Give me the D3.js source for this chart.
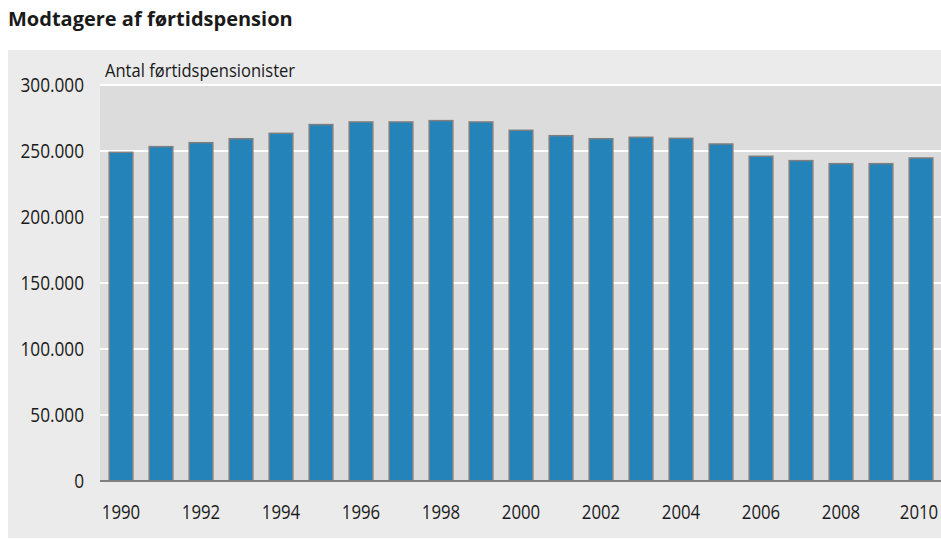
<!DOCTYPE html>
<html>
<head>
<meta charset="utf-8">
<script src="https://cdn.jsdelivr.net/npm/d3@7"></script>
<style>
  body { margin: 0; background: #fff; }
  text { font-family: "Open Sans", sans-serif; fill: #1a1a1a; }
</style>
</head>
<body>
<div id="chart"></div>
<script>
// data (antal personer)
const years = d3.range(1990, 2011);
const recipients = [
  249000, 253300, 256300, 259300, 263400, 270000, 272000, 272000, 273000, 272000,
  265700, 261600, 259300, 260400, 259600, 255300, 246000, 242700, 240400, 240400,
  244700
];
const yTicks = [0, 50000, 100000, 150000, 200000, 250000, 300000];
const xTickYears = years.filter(y => y % 2 === 0);

const svgWidth = 941;
const svgHeight = 539;

const plot = {left: 100, right: 941, top: 85, bottom: 481};

const da = d3.formatLocale({decimal: ',', thousands: '.', grouping: [3], currency: ['', '']});
const fmt = da.format(',d');

// the original uses a condensed face, so squeeze the text a bit
const squeeze = function(sel, k) {
  sel.each(function() {
    const w = this.getComputedTextLength();
    d3.select(this)
        .attr('textLength', w * k)
        .attr('lengthAdjust', 'spacingAndGlyphs');
  });
}

const svg = d3.select('#chart')
    .append('svg')
    .attr('width', svgWidth)
    .attr('height', svgHeight);

// title
svg.append('text')
    .attr('x', 8)
    .attr('y', 26)
    .style('font-weight', 700)
    .style('font-size', '20px')
    .text('Modtagere af førtidspension');

// outer panel
svg.append('rect')
    .attr('x', 8).attr('y', 50)
    .attr('width', svgWidth - 8).attr('height', 488)
    .attr('fill', '#ebebeb');

// plot area
svg.append('rect')
    .attr('x', plot.left).attr('y', plot.top)
    .attr('width', plot.right - plot.left).attr('height', plot.bottom - plot.top)
    .attr('fill', '#dcdcdc');

const x = d3.scaleBand()
    .domain(years)
    .range([plot.left + 1, plot.right])
    .paddingInner(0.41)
    .paddingOuter(0.205);

const y = d3.scaleLinear()
    .domain([0, 300000])
    .range([plot.bottom, plot.top]);

// gridlines
svg.append('g')
    .selectAll('line')
    .data(yTicks.filter(d => d > 0))
    .join('line')
    .attr('x1', plot.left)
    .attr('x2', plot.right)
    .attr('y1', d => y(d))
    .attr('y2', d => y(d))
    .attr('stroke', '#fff')
    .attr('stroke-width', 2);

// y axis labels
const yAxis = svg.append('g')
    .attr('transform', `translate(${plot.left}, 0)`)
    .call(d3.axisLeft(y).tickValues(yTicks).tickFormat(fmt).tickSize(0).tickPadding(16));
yAxis.select('.domain').remove();
yAxis.selectAll('text')
    .style('font-size', '20px')
    .style('font-family', '"Open Sans", sans-serif')
    .attr('fill', '#1a1a1a')
    .call(squeeze, 0.86);

// bars
svg.append('g')
    .selectAll('rect')
    .data(years)
    .join('rect')
    .attr('x', d => x(d))
    .attr('width', x.bandwidth())
    .attr('y', (d, i) => y(recipients[i]))
    .attr('height', (d, i) => y(0) - y(recipients[i]))
    .attr('fill', '#2484b9')
    .attr('stroke', '#7f7f7f')
    .attr('stroke-width', 1.5);

// baseline
svg.append('line')
    .attr('x1', plot.left).attr('x2', plot.right)
    .attr('y1', plot.bottom).attr('y2', plot.bottom)
    .attr('stroke', '#808080')
    .attr('stroke-width', 2);

// x axis labels
const xAxis = svg.append('g')
    .attr('transform', `translate(0, ${plot.bottom})`)
    .call(d3.axisBottom(x).tickValues(xTickYears).tickSize(0).tickPadding(24));
xAxis.select('.domain').remove();
xAxis.selectAll('text')
    .style('font-size', '20px')
    .style('font-family', '"Open Sans", sans-serif')
    .attr('fill', '#1a1a1a')
    .call(squeeze, 0.84);
// last label sits right at the edge in the original, keep it inside
xAxis.selectAll('.tick:last-of-type text').attr('dx', '-2');

// unit label
svg.append('text')
    .attr('x', 105)
    .attr('y', 77)
    .style('font-size', '19px')
    .text('Antal førtidspensionister')
    .call(squeeze, 0.87);
</script>
</body>
</html>
